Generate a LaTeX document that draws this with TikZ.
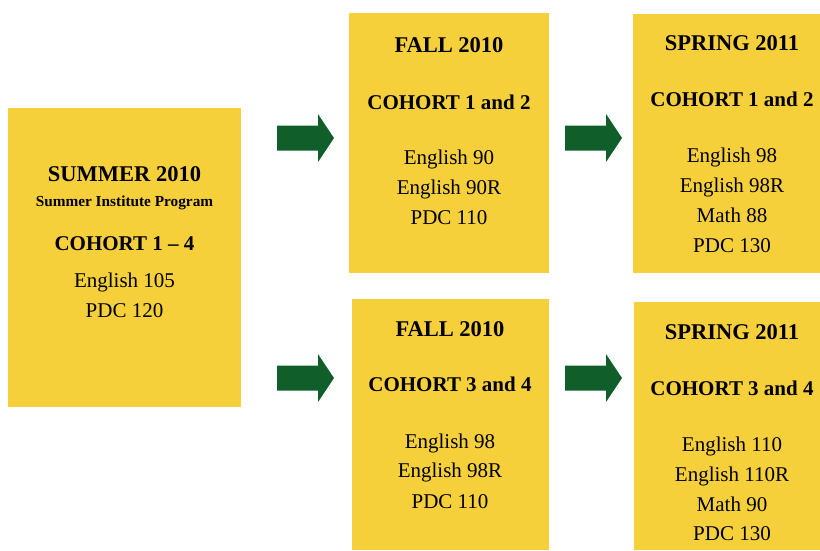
\documentclass[tikz,border=0pt]{standalone}
\usepackage{fontspec}
\setmainfont{Liberation Serif}
\definecolor{boxyellow}{HTML}{F6D03A}
\definecolor{arrowgreen}{HTML}{105F2A}
\tikzset{
  box/.style={fill=boxyellow, draw=none, rectangle, inner sep=0pt, outer sep=0pt},
  head/.style={anchor=base, inner sep=0pt, font=\fontsize{22.5}{27}\selectfont\bfseries},
  cohort/.style={anchor=base, inner sep=0pt, font=\fontsize{21}{25}\selectfont\bfseries},
  subt/.style={anchor=base, inner sep=0pt, font=\fontsize{15.3}{18}\selectfont\bfseries},
  course/.style={anchor=base, inner sep=0pt, font=\fontsize{21}{25}\selectfont},
  arrowfill/.style={fill=arrowgreen, draw=none},
  bigarrow/.pic={\fill[arrowfill] (0,-12.5) -- (41,-12.5) -- (41,-24) -- (57,0) -- (41,24) -- (41,12.5) -- (0,12.5) -- cycle;}
}
\begin{document}
\begin{tikzpicture}[x=1pt,y=-1pt]
\useasboundingbox (0,0) rectangle (820,550);
% boxes
\node[box, minimum width=233pt, minimum height=299pt] (sum) at (124.5,257) {};
\node[box, minimum width=200pt, minimum height=259.7pt] (f1) at (449,142.85) {};
\node[box, minimum width=187pt, minimum height=258.7pt] (s1) at (726.5,143.35) {};
\node[box, minimum width=197pt, minimum height=251pt] (f2) at (450.5,424.5) {};
\node[box, minimum width=186pt, minimum height=248pt] (s2) at (727,426) {};
% arrows
\coordinate (a1) at (277,138);
\coordinate (a2) at (565,138);
\coordinate (a3) at (277,378);
\coordinate (a4) at (565,378);
\pic at (a1) {bigarrow};
\pic at (a2) {bigarrow};
\pic at (a3) {bigarrow};
\pic at (a4) {bigarrow};
% summer
\node[head] (t1) at (124.5,181.7) {SUMMER 2010};
\node[subt] (t2) at (124.5,206) {Summer Institute Program};
\node[cohort] (t3) at (124.5,250) {COHORT 1 – 4};
\node[course] (t4) at (124.5,287) {English 105};
\node[course] (t5) at (124.5,317) {PDC 120};
% fall top
\node[head] (u1) at (449,52.3) {FALL 2010};
\node[cohort] (u2) at (449,109) {COHORT 1 and 2};
\node[course] (u3) at (449,164.3) {English 90};
\node[course] (u4) at (449,194.3) {English 90R};
\node[course] (u5) at (449,224) {PDC 110};
% spring top
\node[head] (v1) at (732,50) {SPRING 2011};
\node[cohort] (v2) at (732,106) {COHORT 1 and 2};
\node[course] (v3) at (732,162.3) {English 98};
\node[course] (v4) at (732,192.3) {English 98R};
\node[course] (v5) at (732,222.7) {Math 88};
\node[course] (v6) at (732,252.7) {PDC 130};
% fall bottom
\node[head] (w1) at (450,336) {FALL 2010};
\node[cohort] (w2) at (450,391.7) {COHORT 3 and 4};
\node[course] (w3) at (450,448.3) {English 98};
\node[course] (w4) at (450,477.7) {English 98R};
\node[course] (w5) at (450,508.3) {PDC 110};
% spring bottom
\node[head] (z1) at (732,339.3) {SPRING 2011};
\node[cohort] (z2) at (732,395) {COHORT 3 and 4};
\node[course] (z3) at (732,451.7) {English 110};
\node[course] (z4) at (732,481) {English 110R};
\node[course] (z5) at (732,511) {Math 90};
\node[course] (z6) at (732,540) {PDC 130};
\end{tikzpicture}
\end{document}
